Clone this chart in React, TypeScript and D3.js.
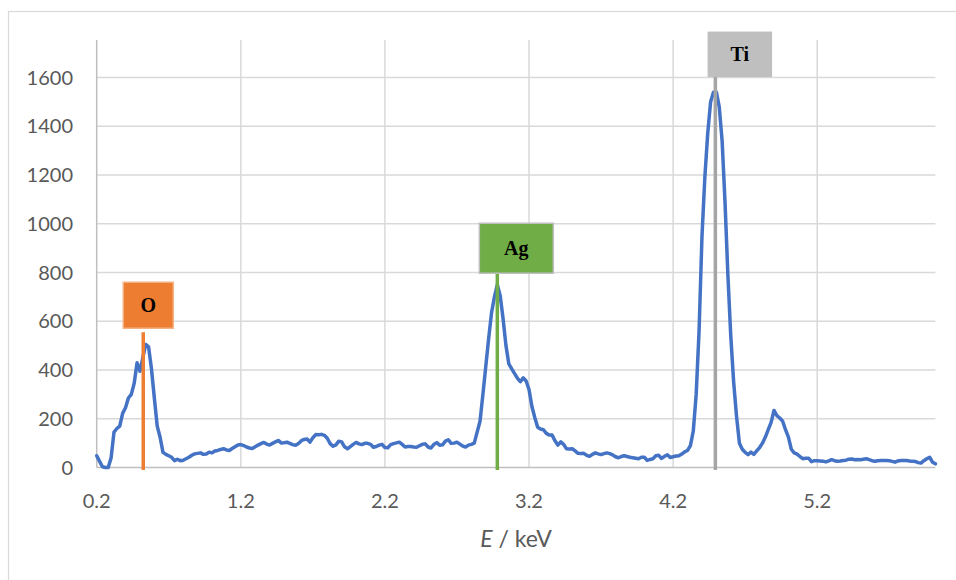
import React, { useEffect } from "react";
import * as d3 from "d3";

// EDS spectrum counts, sampled every 0.02 keV starting at 0.20 keV
const startEnergy = 0.2;
const energyStep = 0.02;
const counts = [
  48, 25, 3, 0, 0, 40, 145, 160, 170, 222,
  245, 285, 300, 345, 430, 395, 450, 505, 495, 405,
  285, 170, 124, 62, 54, 48, 42, 28, 34, 28,
  30, 36, 42, 50, 56, 58, 60, 54, 55, 63,
  60, 68, 70, 74, 77, 72, 70, 78, 85, 92,
  94, 90, 84, 80, 78, 85, 92, 98, 103, 96,
  92, 99, 105, 111, 101, 102, 104, 99, 94, 91,
  98, 110, 115, 117, 104, 122, 135, 134, 136, 132,
  120, 98, 87, 93, 108, 105, 85, 77, 86, 95,
  103, 97, 94, 99, 99, 95, 83, 86, 92, 95,
  82, 81, 94, 98, 101, 104, 95, 84, 86, 86,
  84, 83, 89, 95, 97, 84, 80, 95, 102, 91,
  93, 108, 114, 99, 100, 104, 96, 88, 84, 92,
  95, 100, 145, 190, 300, 415, 530, 635, 700, 750,
  705, 610, 500, 425, 405, 385, 366, 352, 368, 355,
  320, 250, 205, 165, 158, 155, 140, 133, 133, 110,
  92, 105, 95, 77, 76, 77, 68, 58, 57, 58,
  50, 46, 54, 60, 56, 53, 57, 60, 57, 52,
  44, 40, 45, 48, 45, 42, 40, 38, 36, 42,
  42, 29, 33, 36, 48, 50, 37, 46, 52, 41,
  44, 47, 48, 55, 64, 70, 90, 150, 300, 560,
  945, 1190, 1370, 1500, 1540, 1540, 1480, 1340, 1090, 790,
  540, 350, 210, 100, 75, 62, 53, 63, 54, 68,
  82, 100, 125, 155, 185, 234, 213, 203, 190, 155,
  125, 75, 60, 55, 45, 36, 38, 38, 24, 28,
  28, 27, 26, 23, 27, 32, 28, 26, 27, 29,
  30, 34, 35, 32, 33, 32, 34, 36, 32, 28,
  26, 28, 29, 29, 29, 28, 25, 22, 27, 29,
  29, 29, 27, 26, 25, 20, 18, 28, 36, 42,
  22, 15,
];

const xTickValues = [0.2, 1.2, 2.2, 3.2, 4.2, 5.2];
const xTickLabels = ["0.2", "1.2", "2.2", "3.2", "4.2", "5.2"];
const yTickValues = [0, 200, 400, 600, 800, 1000, 1200, 1400, 1600];

// Element marker lines
const markerElements = ["O", "Ag", "Ti"];
const markerEnergies = [0.523, 2.98, 4.493];
const markerTops = [555, 797, 1605];
const markerColors = ["#ED7D31", "#70AD47", "#A5A5A5"];
const boxFills = ["#ED7D31", "#70AD47", "#BFBFBF"];
const boxStrokes = ["#F4B183", "#BFBFBF", "#BFBFBF"];
// box geometry (style): offset of left edge from line, width, height, gap
const boxDx = [-20, -18, -7];
const boxW = [50, 74, 63];
const boxH = [46, 50, 44];
const boxGap = [4, 0, 0];

const W = 956;
const H = 580;
const plotLeft = 96.7;
const plotRight = 935.4;
const plotTop = 40;
const plotBottom = 467.5;

export default function App() {
  useEffect(() => {
    document.body.style.margin = "0";
  }, []);

  const energies = counts.map((_, i) => startEnergy + i * energyStep);
  const x = d3.scaleLinear().domain([0.2, 6.02]).range([plotLeft, plotRight]);
  const y = d3.scaleLinear().domain([0, 1754]).range([plotBottom, plotTop]);

  const line = d3
    .line<number>()
    .x((_, i) => x(energies[i]))
    .y((d) => y(d))
    .curve(d3.curveLinear);

  const tickFont = "Lato, 'Open Sans', sans-serif";

  return (
    <svg width={W} height={H} style={{ display: "block" }}>
      <rect x={0} y={0} width={W} height={H} fill="#ffffff" />
      <rect x={8.5} y={11.5} width={1000} height={700} fill="none" stroke="#D9D9D9" strokeWidth={1.2} />

      {/* horizontal gridlines */}
      {yTickValues.map((v) =>
        v === 0 ? null : (
          <line key={"hy" + v} x1={plotLeft} x2={plotRight} y1={y(v)} y2={y(v)} stroke="#D9D9D9" strokeWidth={1.5} />
        )
      )}
      {/* vertical gridlines */}
      {xTickValues.map((v) =>
        v === 0.2 ? null : (
          <line key={"vx" + v} x1={x(v)} x2={x(v)} y1={plotTop} y2={plotBottom} stroke="#D9D9D9" strokeWidth={1.5} />
        )
      )}
      {/* axes */}
      <line x1={plotLeft} x2={plotLeft} y1={plotTop} y2={plotBottom} stroke="#BFBFBF" strokeWidth={1.5} />
      <line x1={plotLeft} x2={plotRight} y1={plotBottom} y2={plotBottom} stroke="#BFBFBF" strokeWidth={1.5} />

      {/* y tick labels */}
      {yTickValues.map((v) => (
        <text key={"yl" + v} x={73} y={y(v)} dy="0.35em" textAnchor="end" fontFamily={tickFont} fontSize={20} fill="#595959">
          {v}
        </text>
      ))}
      {/* x tick labels */}
      {xTickValues.map((v, i) => (
        <text key={"xl" + v} x={x(v)} y={508} textAnchor="middle" fontFamily={tickFont} fontSize={20} fill="#595959">
          {xTickLabels[i]}
        </text>
      ))}
      {/* axis title */}
      <text x={(plotLeft + plotRight) / 2} y={547} textAnchor="middle" fontFamily={tickFont} fontSize={23} fill="#595959">
        <tspan fontStyle="italic">E</tspan>
        <tspan> / keV</tspan>
      </text>

      {/* spectrum */}
      <path d={line(counts) || ""} fill="none" stroke="#4472C4" strokeWidth={3.5} strokeLinejoin="round" strokeLinecap="round" />

      {/* element markers */}
      {markerElements.map((el, i) => {
        const lx = x(markerEnergies[i]);
        const top = y(markerTops[i]);
        const bx = lx + boxDx[i];
        const by = top - boxGap[i] - boxH[i];
        return (
          <g key={el}>
            <line x1={lx} x2={lx} y1={top} y2={y(-10)} stroke={markerColors[i]} strokeWidth={3.5} />
            <rect x={bx} y={by} width={boxW[i]} height={boxH[i]} fill={boxFills[i]} stroke={boxStrokes[i]} strokeWidth={1.5} />
            <text
              x={bx + boxW[i] / 2}
              y={by + boxH[i] / 2}
              dy="0.35em"
              textAnchor="middle"
              fontFamily="'Liberation Serif', 'Times New Roman', serif"
              fontWeight="bold"
              fontSize={20}
              fill="#000000"
            >
              {el}
            </text>
          </g>
        );
      })}
    </svg>
  );
}
